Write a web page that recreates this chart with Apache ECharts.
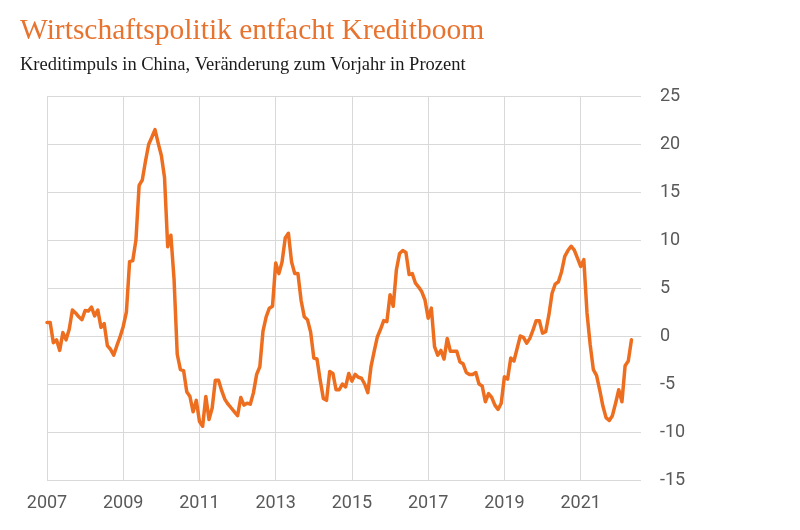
<!DOCTYPE html>
<html>
<head>
<meta charset="utf-8">
<script src="https://cdn.jsdelivr.net/npm/echarts@6/dist/echarts.min.js"></script>
<style>html,body{margin:0;padding:0;background:#fff}#c{width:800px;height:530px}</style>
</head>
<body>
<div id="c"></div>
<script>
const titleText = 'Wirtschaftspolitik entfacht Kreditboom';
const subtitleText = 'Kreditimpuls in China, Veränderung zum Vorjahr in Prozent';
const startYear = 2007;
const endYear = 2022;
const endMonth = 8; // axis runs through Aug 2022
const yTicks = { min: -15, max: 25, step: 5 };

// Monthly credit impulse values, Jan 2007 .. May 2022
const v2007 = [1.4, 1.4, -0.7, -0.4, -1.5, 0.35, -0.4, 0.7, 2.7, 2.4, 2.0, 1.7];
const v2008 = [2.65, 2.6, 3.0, 2.1, 2.7, 0.9, 1.3, -1.0, -1.4, -2.0, -1.0, -0.1];
const v2009 = [1.0, 2.5, 7.75, 7.85, 10.0, 15.7, 16.25, 18.2, 19.95, 20.7, 21.5, 20.1];
const v2010 = [18.8, 16.5, 9.3, 10.5, 5.9, -1.9, -3.5, -3.6, -5.8, -6.3, -7.9, -6.7];
const v2011 = [-8.9, -9.4, -6.3, -8.7, -7.5, -4.6, -4.6, -5.7, -6.6, -7.1, -7.5, -7.9];
const v2012 = [-8.3, -6.4, -7.2, -7.0, -7.1, -5.9, -4.0, -3.2, 0.5, 2.0, 2.9, 3.1];
const v2013 = [7.6, 6.5, 7.7, 10.2, 10.7, 7.7, 6.5, 6.5, 3.7, 2.0, 1.7, 0.4];
const v2014 = [-2.3, -2.4, -4.6, -6.5, -6.7, -3.7, -3.9, -5.6, -5.6, -5.0, -5.3, -3.9];
const v2015 = [-4.7, -4.0, -4.3, -4.4, -5.0, -5.9, -3.2, -1.6, -0.1, 0.7, 1.6, 1.5];
const v2016 = [4.3, 3.1, 6.9, 8.6, 8.9, 8.7, 6.4, 6.5, 5.5, 5.1, 4.6, 3.75];
const v2017 = [1.85, 2.9, -1.1, -2.0, -1.5, -2.4, -0.25, -1.6, -1.6, -1.6, -2.7, -2.9];
const v2018 = [-3.8, -4.0, -4.0, -3.8, -5.0, -5.2, -6.85, -6.0, -6.4, -7.2, -7.65, -7.0];
const v2019 = [-4.25, -4.5, -2.3, -2.6, -1.3, 0.0, -0.15, -0.75, -0.25, 0.6, 1.6, 1.6];
const v2020 = [0.3, 0.45, 2.2, 4.45, 5.4, 5.65, 6.7, 8.3, 8.9, 9.35, 8.95, 8.1];
const v2021 = [7.25, 7.95, 2.4, -0.9, -3.5, -4.1, -5.6, -7.3, -8.5, -8.8, -8.3, -7.0];
const v2022 = [-5.6, -6.85, -3.1, -2.6, -0.4];

const values = [].concat(v2007, v2008, v2009, v2010, v2011, v2012, v2013, v2014,
  v2015, v2016, v2017, v2018, v2019, v2020, v2021, v2022);

const months = [];
for (let y = startYear; y <= endYear; y++) {
  for (let m = 1; m <= 12; m++) {
    if (y === endYear && m > endMonth) break;
    months.push(y + '-' + (m < 10 ? '0' + m : m));
  }
}

const isLabelTick = (idx) => idx % 24 === 0;

const chart = echarts.init(document.getElementById('c'), null, { renderer: 'canvas' });
chart.setOption({
  backgroundColor: '#ffffff',
  animation: false,
  title: [
    {
      text: titleText, left: 15, top: 11,
      textStyle: { fontFamily: 'Liberation Serif', fontSize: 29.5, fontWeight: 'normal', color: '#E8732F' }
    },
    {
      text: subtitleText, left: 15, top: 51,
      textStyle: { fontFamily: 'Liberation Serif', fontSize: 18.5, fontWeight: 'normal', color: '#1a1a1a' }
    }
  ],
  grid: { left: 47, right: 159, top: 96, bottom: 50, containLabel: false },
  xAxis: {
    type: 'category',
    data: months,
    boundaryGap: false,
    axisLine: { show: true, lineStyle: { color: '#d9d9d9', width: 1 } },
    axisTick: { show: false },
    axisLabel: {
      interval: (idx) => isLabelTick(idx),
      formatter: (v) => v.slice(0, 4),
      fontFamily: 'Liberation Sans Narrow, Roboto, sans-serif',
      fontSize: 18, color: '#595959', margin: 14
    },
    splitLine: { show: true, interval: (idx) => isLabelTick(idx), lineStyle: { color: '#d9d9d9', width: 1 } }
  },
  yAxis: {
    type: 'value',
    position: 'right',
    min: yTicks.min, max: yTicks.max, interval: yTicks.step,
    axisLine: { show: false },
    axisTick: { show: false },
    axisLabel: {
      fontFamily: 'Liberation Sans Narrow, Roboto, sans-serif',
      fontSize: 18, color: '#595959', margin: 19
    },
    splitLine: { show: true, lineStyle: { color: '#d9d9d9', width: 1 } }
  },
  series: [{
    type: 'line',
    data: values,
    showSymbol: false,
    symbol: 'none',
    lineStyle: { color: '#EE6E1F', width: 3.5, join: 'round', cap: 'round' },
    z: 5
  }]
});
</script>
</body>
</html>
